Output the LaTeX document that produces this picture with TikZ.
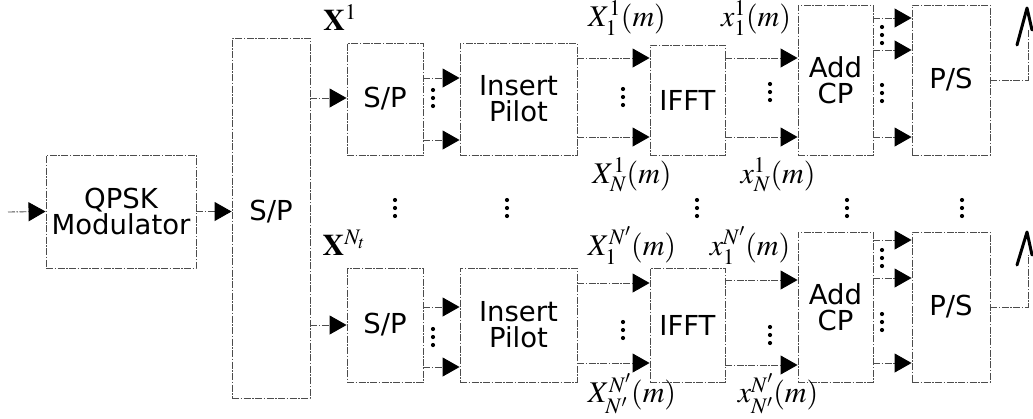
\documentclass[tikz,border=0pt]{standalone}
\usepackage{mathptmx}
\usepackage[no-math]{fontspec}
\setmainfont{DejaVu Sans}
\usetikzlibrary{arrows.meta}
\begin{document}
\begin{tikzpicture}[x=1pt,y=-1pt,
  ln/.style={draw=black!70,line width=0.9pt,dash pattern=on 7pt off 1.5pt on 1.5pt off 1.5pt},
  blk/.style={ln,rectangle,minimum width=0pt,minimum height=0pt,inner sep=0pt,align=center,
    font=\fontsize{27.5}{30}\selectfont},
  arr/.style={ln,-{Triangle[length=17pt,width=19pt,color=black,fill=black]}},
  lab/.style={font=\fontsize{30}{30}\selectfont,inner sep=0pt}]
\useasboundingbox (0,0) rectangle (1033,418);
\newcommand{\vdd}[2]{\fill[black] (#1,#2-8) circle (2.1) (#1,#2) circle (2.1) (#1,#2+8) circle (2.1);}
% blocks
\node[blk,minimum width=150pt,minimum height=113pt] (qpsk) at (121,211.5) {QPSK\\[-4pt]Modulator};
\node[blk,minimum width=78pt,minimum height=360pt] (bigsp) at (271,218) {};
\node[font=\fontsize{27.5}{30}\selectfont] (bigsptxt) at (271,212) {S/P};
\coordinate (in) at (8,212);
\draw[arr] (in) -- (qpsk.west);
\draw[arr] (qpsk.east) -- (qpsk.east -| bigsp.west);
% top branch
\node[blk,minimum width=76pt,minimum height=112pt] (sp1) at (385,99) {S/P};
\node[blk,minimum width=117pt,minimum height=112pt] (ip1) at (518.5,99) {Insert\\[-4pt]Pilot};
\node[blk,minimum width=75pt,minimum height=110pt] (if1) at (687.5,100) {IFFT};
\node[blk,minimum width=75pt,minimum height=150pt] (cp1) at (835.5,80) {Add\\[-4pt]CP};
\node[blk,minimum width=78pt,minimum height=150pt] (ps1) at (951,80) {P/S};
\draw[arr] (bigsp.east |- 0,98) -- (sp1.west |- 0,98);
\draw[arr] (sp1.east |- 0,78) -- (ip1.west |- 0,78);
\draw[arr] (sp1.east |- 0,140) -- (ip1.west |- 0,140);
\draw[arr] (ip1.east |- 0,58) -- (if1.west |- 0,58);
\draw[arr] (ip1.east |- 0,137) -- (if1.west |- 0,137);
\draw[arr] (if1.east |- 0,58) -- (cp1.west |- 0,58);
\draw[arr] (if1.east |- 0,137) -- (cp1.west |- 0,137);
\draw[arr] (cp1.east |- 0,18) -- (ps1.west |- 0,18);
\draw[arr] (cp1.east |- 0,50) -- (ps1.west |- 0,50);
\draw[arr] (cp1.east |- 0,137) -- (ps1.west |- 0,137);
\vdd{433}{98}\vdd{623}{97}\vdd{770}{92}\vdd{882}{35}\vdd{882}{93}
\coordinate (a1) at (1028,30);
\draw[ln] (ps1.east) -| (a1);
\draw[line width=3pt,line cap=round,line join=round] (1017,45) -- (1027,8) -- (1032,30);
% bottom branch
\node[blk,minimum width=76pt,minimum height=114pt] (sp2) at (385,325) {S/P};
\node[blk,minimum width=117pt,minimum height=114pt] (ip2) at (518.5,325) {Insert\\[-4pt]Pilot};
\node[blk,minimum width=75pt,minimum height=114pt] (if2) at (687.5,325) {IFFT};
\node[blk,minimum width=75pt,minimum height=150pt] (cp2) at (835.5,307) {Add\\[-4pt]CP};
\node[blk,minimum width=78pt,minimum height=150pt] (ps2) at (951,307) {P/S};
\draw[arr] (bigsp.east |- 0,325) -- (sp2.west |- 0,325);
\draw[arr] (sp2.east |- 0,307) -- (ip2.west |- 0,307);
\draw[arr] (sp2.east |- 0,367) -- (ip2.west |- 0,367);
\draw[arr] (ip2.east |- 0,283) -- (if2.west |- 0,283);
\draw[arr] (ip2.east |- 0,363) -- (if2.west |- 0,363);
\draw[arr] (if2.east |- 0,280) -- (cp2.west |- 0,280);
\draw[arr] (if2.east |- 0,365) -- (cp2.west |- 0,365);
\draw[arr] (cp2.east |- 0,240) -- (ps2.west |- 0,240);
\draw[arr] (cp2.east |- 0,278) -- (ps2.west |- 0,278);
\draw[arr] (cp2.east |- 0,363) -- (ps2.west |- 0,363);
\vdd{433}{337}\vdd{623}{330}\vdd{770}{335}\vdd{882}{258}\vdd{882}{322}
\coordinate (a2) at (1028,255);
\draw[ln] (ps2.east) -| (a2);
\draw[line width=3pt,line cap=round,line join=round] (1017,265) -- (1027,232) -- (1032,255);
% middle dots
\vdd{395}{208}\vdd{507}{208}\vdd{697}{208}\vdd{847}{208}\vdd{962}{208}
% labels
\node[lab] (lx1) at (340,18) {$\mathbf{X}^{1}$};
\node[lab] (lxn) at (344,243) {$\mathbf{X}^{N_t}$};
\node[lab] (l11) at (627,18) {$X_1^1(m)$};
\node[lab] (l12) at (632,175) {$X_N^1(m)$};
\node[lab] (l13) at (756,18) {$x_1^1(m)$};
\node[lab] (l14) at (778,175) {$x_N^1(m)$};
\node[lab] (l21) at (632,246) {$X_1^{N'}(m)$};
\node[lab] (l22) at (632,394) {$X_{N'}^{N'}(m)$};
\node[lab] (l23) at (750,246) {$x_1^{N'}(m)$};
\node[lab] (l24) at (778,394) {$x_{N'}^{N'}(m)$};
\end{tikzpicture}
\end{document}
